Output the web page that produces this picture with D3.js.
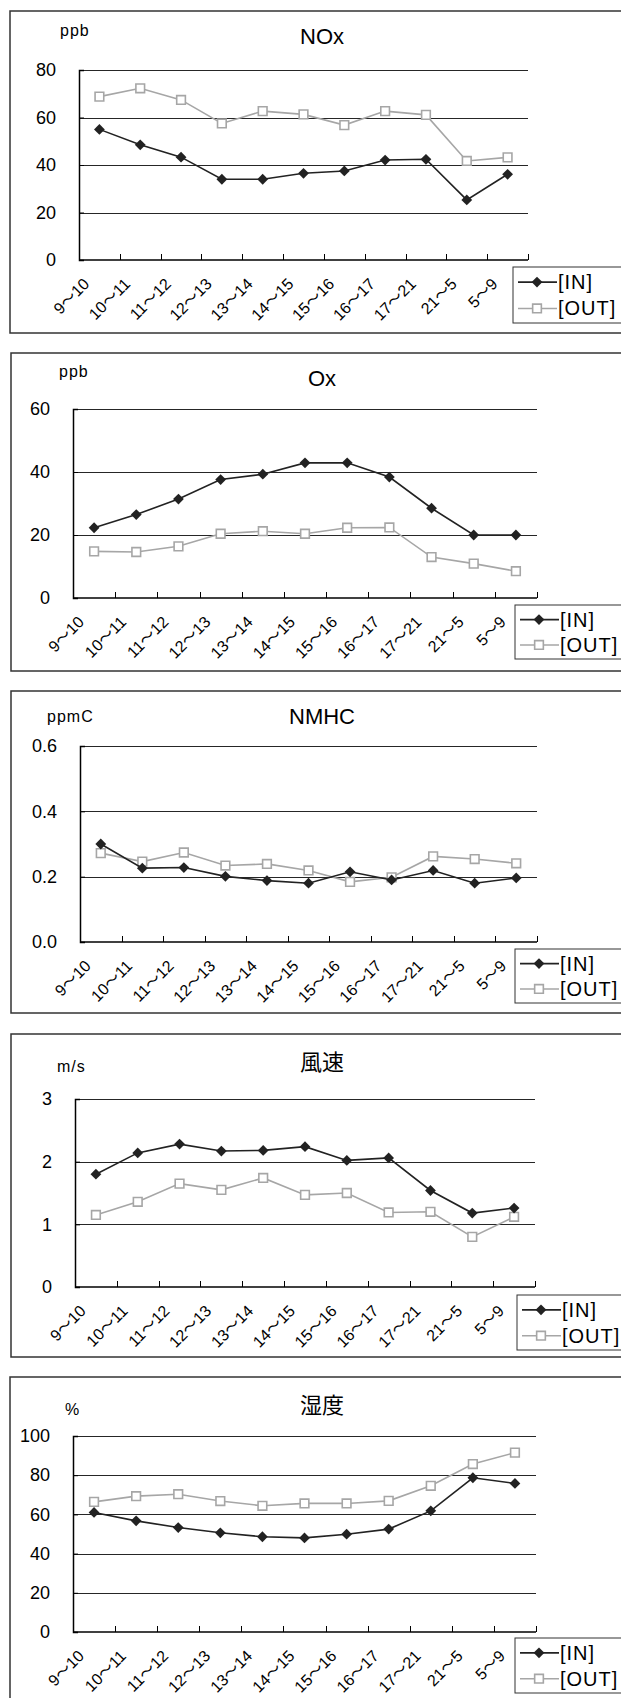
<!DOCTYPE html>
<html lang="ja">
<head>
<meta charset="UTF-8">
<script src="https://d3js.org/d3.v7.min.js"></script>
<title>IN / OUT</title>
<style>
  body { margin: 0; background: #fff; }
  svg { display: block; }
  text { font-family: "Liberation Sans", Arial, "Noto Sans CJK JP", sans-serif; fill: #000; }
  .title { font-family: "Liberation Sans", "Noto Sans CJK JP", sans-serif; font-size: 22px; }
  .unit { font-size: 16px; letter-spacing: 1px; }
  .ylab { font-size: 18px; }
  .xlab { font-size: 16px; }
  .wave { font-family: "Noto Sans CJK JP", sans-serif; }
  .leg { font-size: 20px; letter-spacing: 1px; }
</style>
</head>
<body>
<div id="chart"></div>
<script>
// time periods (hours)
const periods = ["9～10", "10～11", "11～12", "12～13", "13～14", "14～15", "15～16", "16～17", "17～21", "21～5", "5～9"];
const seriesNames = ["[IN]", "[OUT]"];

const noxIn  = [55, 48.5, 43.3, 34, 34, 36.5, 37.5, 42.1, 42.4, 25.3, 36.1];
const noxOut = [68.8, 72.3, 67.4, 57.5, 62.7, 61.3, 56.8, 62.7, 61.1, 41.7, 43.2];
const noxTicks = [0, 20, 40, 60, 80];

const oxIn  = [22.3, 26.5, 31.4, 37.6, 39.3, 42.9, 42.9, 38.4, 28.5, 20, 20];
const oxOut = [14.8, 14.6, 16.4, 20.4, 21.2, 20.4, 22.3, 22.4, 13, 10.9, 8.5];
const oxTicks = [0, 20, 40, 60];

const nmhcIn  = [0.300, 0.226, 0.228, 0.201, 0.188, 0.180, 0.215, 0.190, 0.219, 0.180, 0.196];
const nmhcOut = [0.272, 0.246, 0.274, 0.234, 0.239, 0.219, 0.184, 0.198, 0.262, 0.254, 0.241];
const nmhcTicks = [0, 0.2, 0.4, 0.6];

const windIn  = [1.80, 2.14, 2.28, 2.17, 2.18, 2.24, 2.02, 2.06, 1.54, 1.18, 1.26];
const windOut = [1.15, 1.36, 1.65, 1.55, 1.74, 1.47, 1.50, 1.19, 1.20, 0.80, 1.12];
const windTicks = [0, 1, 2, 3];

const humIn  = [61, 56.7, 53.3, 50.6, 48.6, 48, 49.9, 52.5, 61.8, 78.7, 75.8];
const humOut = [66.4, 69.3, 70.3, 66.8, 64.4, 65.6, 65.6, 66.9, 74.6, 85.7, 91.5];
const humTicks = [0, 20, 40, 60, 80, 100];

const titles = ["NOx", "Ox", "NMHC", "風速", "湿度"];
const units = ["ppb", "ppb", "ppmC", "m/s", "%"];

const W = 621, H = 1698;

// layout of each panel: box [left, top, bottom], plot [left, right, top, bottom], title y, unit [x, y], legend [left, top, height]
const layout = [
  { box: [10, 11, 333],    plot: [79, 528, 70, 260],     ty: 44,   ux: [60, 36],    leg: [513, 267, 56] },
  { box: [11, 353, 671],   plot: [73, 537, 409, 598],    ty: 386,  ux: [59, 377],   leg: [515, 605, 54] },
  { box: [11, 691, 1013],  plot: [80, 537, 746, 942],    ty: 724,  ux: [47, 722],   leg: [515, 949, 54] },
  { box: [11, 1034, 1357], plot: [75, 535, 1099, 1287],  ty: 1070, ux: [57, 1072],  leg: [517, 1295, 55] },
  { box: [10, 1377, 1720], plot: [73, 536, 1436, 1632],  ty: 1413, ux: [65, 1415],  leg: [515, 1638, 55] }
];

const panels = [
  { ins: noxIn, outs: noxOut, ticks: noxTicks, fmt: d3.format("d") },
  { ins: oxIn, outs: oxOut, ticks: oxTicks, fmt: d3.format("d") },
  { ins: nmhcIn, outs: nmhcOut, ticks: nmhcTicks, fmt: d3.format(".1f") },
  { ins: windIn, outs: windOut, ticks: windTicks, fmt: d3.format("d") },
  { ins: humIn, outs: humOut, ticks: humTicks, fmt: d3.format("d") }
];

const svg = d3.select('#chart').append('svg')
  .attr('width', W)
  .attr('height', H);

const diamond = d3.symbol().type(d3.symbolDiamond2).size(74);
const square = d3.symbol().type(d3.symbolSquare2).size(96);

panels.forEach((p, i) => {
  const L = layout[i];
  const g = svg.append('g');

  g.append('rect')
    .attr('x', L.box[0]).attr('y', L.box[1])
    .attr('width', 700).attr('height', L.box[2] - L.box[1])
    .attr('fill', 'none').attr('stroke', '#333').attr('stroke-width', 1.5);

  const x = d3.scaleBand().domain(periods).range([L.plot[0], L.plot[1]]);
  const y = d3.scaleLinear().domain([0, d3.max(p.ticks)]).range([L.plot[3], L.plot[2]]);
  const cx = d => x(d) + x.bandwidth() / 2;

  // gridlines
  g.selectAll('.grid').data(p.ticks.slice(1)).enter()
    .append('line')
    .attr('x1', L.plot[0]).attr('x2', L.plot[1])
    .attr('y1', d => Math.round(y(d)) + 0.5).attr('y2', d => Math.round(y(d)) + 0.5)
    .attr('stroke', '#262626').attr('stroke-width', 1.2);

  // y axis
  const yAxis = g.append('g')
    .attr('transform', 'translate(' + L.plot[0] + ',0)')
    .call(d3.axisLeft(y).tickValues(p.ticks).tickFormat(p.fmt).tickSize(-5).tickPadding(23));
  yAxis.select('.domain').attr('stroke', '#000').attr('stroke-width', 1.5);
  yAxis.selectAll('line').attr('stroke', '#000');
  yAxis.selectAll('text').attr('class', 'ylab').attr('font-size', null).attr('font-family', null);

  // x axis
  g.append('line')
    .attr('x1', L.plot[0]).attr('x2', L.plot[1])
    .attr('y1', L.plot[3]).attr('y2', L.plot[3])
    .attr('stroke', '#000').attr('stroke-width', 1.5);
  const edges = periods.map(d => x(d)).concat([L.plot[1]]);
  g.selectAll('.xt').data(edges.slice(1)).enter()
    .append('line')
    .attr('x1', d => Math.round(d) + 0.5).attr('x2', d => Math.round(d) + 0.5)
    .attr('y1', L.plot[3]).attr('y2', L.plot[3] - 6)
    .attr('stroke', '#000');

  const xl = g.selectAll('.xlab').data(periods).enter()
    .append('text')
    .attr('class', 'xlab')
    .attr('text-anchor', 'end')
    .attr('transform', d => 'translate(' + (cx(d) - 9) + ',' + (L.plot[3] + 25) + ') rotate(-45)');
  xl.each(function (d) {
    const parts = d.split('～');
    const t = d3.select(this);
    t.append('tspan').text(parts[0]);
    t.append('tspan').attr('class', 'wave').text('～');
    t.append('tspan').text(parts[1]);
  });

  // title and unit
  g.append('text').attr('class', 'title')
    .attr('x', 322).attr('y', L.ty).attr('text-anchor', 'middle')
    .text(titles[i]);
  g.append('text').attr('class', 'unit')
    .attr('x', L.ux[0]).attr('y', L.ux[1])
    .attr('letter-spacing', units[i] === 'm/s' ? 3 : null)
    .text(units[i]);

  // series
  const line = d3.line().x((d, j) => cx(periods[j])).y(d => y(d));
  g.append('path').datum(p.outs)
    .attr('d', line).attr('fill', 'none')
    .attr('stroke', '#a6a6a6').attr('stroke-width', 1.6);
  g.selectAll('.mo').data(p.outs).enter()
    .append('path')
    .attr('d', square)
    .attr('transform', (d, j) => 'translate(' + cx(periods[j]) + ',' + y(d) + ')')
    .attr('fill', '#fff').attr('stroke', '#a6a6a6').attr('stroke-width', 1.6);

  g.append('path').datum(p.ins)
    .attr('d', line).attr('fill', 'none')
    .attr('stroke', '#222').attr('stroke-width', 1.6);
  g.selectAll('.mi').data(p.ins).enter()
    .append('path')
    .attr('d', diamond)
    .attr('transform', (d, j) => 'translate(' + cx(periods[j]) + ',' + y(d) + ')')
    .attr('fill', '#222');

  // legend
  const lg = g.append('g').attr('transform', 'translate(' + L.leg[0] + ',' + L.leg[1] + ')');
  lg.append('rect')
    .attr('width', 200).attr('height', L.leg[2])
    .attr('fill', '#fff').attr('stroke', '#333').attr('stroke-width', 1);
  seriesNames.forEach((name, k) => {
    const ly = L.leg[2] * (k === 0 ? 0.27 : 0.74);
    const col = k === 0 ? '#222' : '#a6a6a6';
    lg.append('line')
      .attr('x1', 5).attr('x2', 44).attr('y1', ly).attr('y2', ly)
      .attr('stroke', col).attr('stroke-width', 1.6);
    lg.append('path')
      .attr('d', k === 0 ? diamond : square)
      .attr('transform', 'translate(24,' + ly + ')')
      .attr('fill', k === 0 ? '#222' : '#fff')
      .attr('stroke', k === 0 ? 'none' : col).attr('stroke-width', 1.6);
    lg.append('text').attr('class', 'leg')
      .attr('x', 45).attr('y', ly + 7)
      .text(name);
  });
});
</script>
</body>
</html>
